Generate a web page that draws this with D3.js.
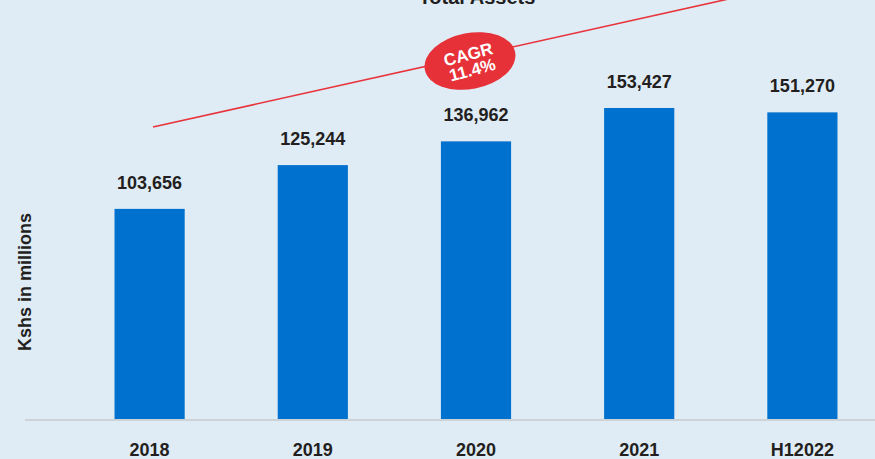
<!DOCTYPE html>
<html>
<head>
<meta charset="utf-8">
<script src="https://cdn.jsdelivr.net/npm/d3@7"></script>
<style>
  html, body { margin: 0; padding: 0; background: #dfebf5; }
  svg { display: block; font-family: "Liberation Sans", Arial, sans-serif; }
  .value { font-size: 18px; font-weight: bold; fill: #231f20; text-anchor: middle; }
  .cat { font-size: 18px; font-weight: bold; fill: #231f20; text-anchor: middle; }
</style>
</head>
<body>
<svg id="chart"></svg>
<script>
// Total assets, Kshs in millions
const years = ["2018", "2019", "2020", "2021", "H12022"];
const assets = [103656, 125244, 136962, 153427, 151270];
const cagrLines = ["CAGR", "11.4%"];

const width = 875;
const height = 459;
const baseY = 419;

const svg = d3.select("#chart")
  .attr("width", width)
  .attr("height", height);

svg.append("rect")
  .attr("width", width)
  .attr("height", height)
  .attr("fill", "#dfebf5");

// x: one band per year
const x = d3.scaleBand()
  .domain(years)
  .range([68, 884])
  .paddingInner(0.57)
  .paddingOuter(0.285);

// y: zero based
const y = d3.scaleLinear()
  .domain([0, 206700])
  .range([baseY, 0]);

// title (cut off at the top, as in the original)
svg.append("text")
  .attr("x", 477)
  .attr("y", 4)
  .attr("text-anchor", "middle")
  .style("font-size", "20px")
  .style("font-weight", "bold")
  .style("fill", "#231f20")
  .text("Total Assets");

// axis title
svg.append("text")
  .attr("transform", "translate(31,282) rotate(-90)")
  .attr("text-anchor", "middle")
  .style("font-size", "18px")
  .style("font-weight", "bold")
  .style("fill", "#231f20")
  .text("Kshs in millions");

// bars
svg.selectAll(".bar")
  .data(assets)
  .enter()
  .append("rect")
  .attr("class", "bar")
  .attr("x", (d, i) => x(years[i]))
  .attr("y", d => y(d))
  .attr("width", x.bandwidth())
  .attr("height", d => baseY - y(d))
  .attr("fill", "#0071ce");

// baseline
svg.append("line")
  .attr("x1", 25)
  .attr("x2", width)
  .attr("y1", baseY + 1)
  .attr("y2", baseY + 1)
  .attr("stroke", "#cdd2d6")
  .attr("stroke-width", 2);

// value labels above bars
svg.selectAll(".value")
  .data(assets)
  .enter()
  .append("text")
  .attr("class", "value")
  .attr("x", (d, i) => x(years[i]) + x.bandwidth() / 2)
  .attr("y", d => y(d) - 20)
  .text(d => d3.format(",")(d));

// year labels
svg.selectAll(".cat")
  .data(years)
  .enter()
  .append("text")
  .attr("class", "cat")
  .attr("x", d => x(d) + x.bandwidth() / 2)
  .attr("y", 456)
  .text(d => d);

// CAGR trend line
svg.append("line")
  .attr("x1", 153)
  .attr("y1", 127)
  .attr("x2", 760)
  .attr("y2", -8)
  .attr("stroke", "#e8333b")
  .attr("stroke-width", 1.6);

// CAGR badge
const badge = svg.append("g")
  .attr("transform", "translate(470,61) rotate(-11)");

badge.append("ellipse")
  .attr("rx", 46)
  .attr("ry", 28)
  .attr("fill", "#e63138");

badge.selectAll("text")
  .data(cagrLines)
  .enter()
  .append("text")
  .attr("x", 0)
  .attr("y", (d, i) => i === 0 ? -1 : 15)
  .attr("text-anchor", "middle")
  .attr("transform", "rotate(-4)")
  .style("font-size", "17px")
  .style("font-weight", "bold")
  .style("fill", "#ffffff")
  .text(d => d);
</script>
</body>
</html>
